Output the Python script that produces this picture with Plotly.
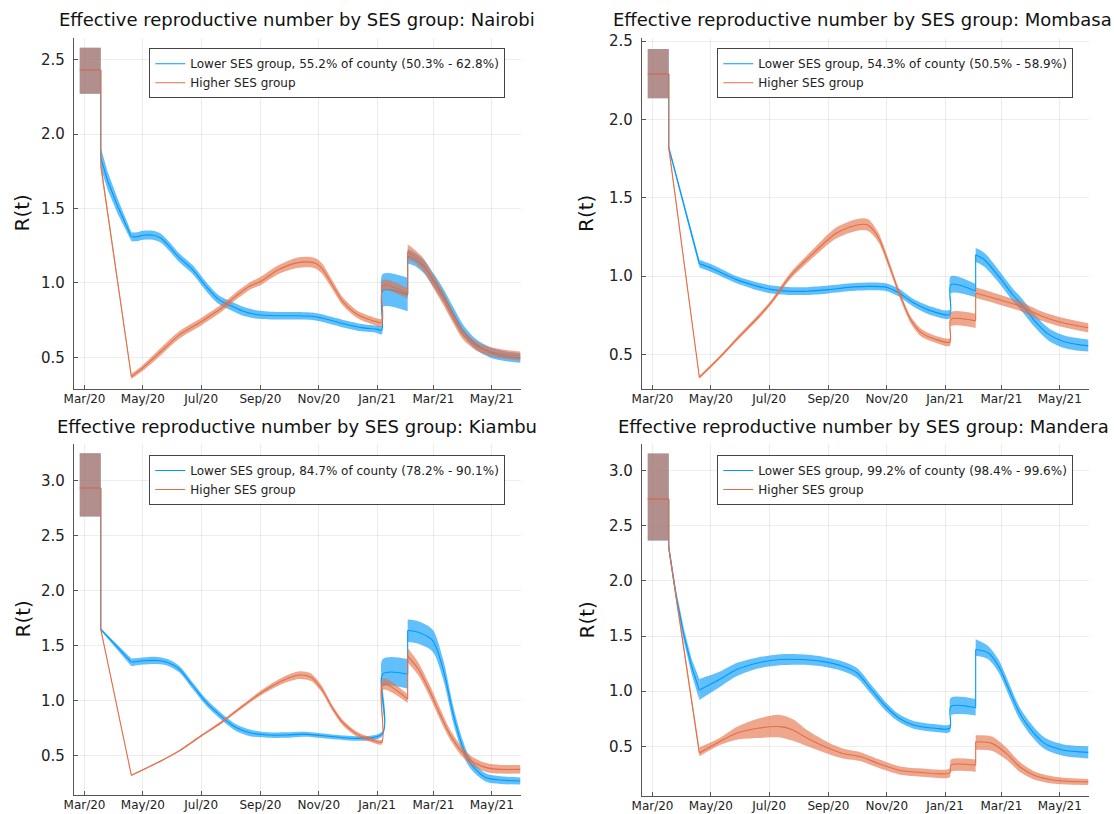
import pandas as pd
import plotly.graph_objects as go

W, H = 1114, 814
FONT = "DejaVu Sans"
BLUE = "#009AFA"
RED = "#E36F47"
BLUE_FILL = "rgba(0,154,250,0.62)"
RED_FILL = "rgba(227,111,71,0.62)"
START = pd.Timestamp("2020-03-01")
KINK_DAY = 49   # end of the straight post-lockdown descent

# ---------------- data (days since 2020-03-01, mean, lower, upper) ----------------
# Nairobi
nai_low_day = [-5, 17, 17, 24, 35, 49, 55, 61, 72, 80, 88, 99, 113, 128, 140, 152, 166, 181, 203, 222, 240, 248, 260, 275, 290, 305, 311, 312, 338, 338, 345, 355, 365, 375, 386, 396, 410, 424, 441, 456]
nai_low_mean = [2.43, 2.43, 1.84, 1.69, 1.51, 1.31, 1.31, 1.32, 1.32, 1.30, 1.25, 1.17, 1.09, 0.97, 0.89, 0.85, 0.81, 0.787, 0.78, 0.78, 0.775, 0.765, 0.745, 0.72, 0.70, 0.69, 0.685, 0.95, 0.92, 1.18, 1.16, 1.11, 1.02, 0.92, 0.79, 0.68, 0.585, 0.535, 0.505, 0.495]
nai_low_lo = [2.27, 2.27, 1.77, 1.63, 1.46, 1.28, 1.28, 1.29, 1.29, 1.27, 1.22, 1.14, 1.06, 0.94, 0.86, 0.82, 0.78, 0.76, 0.755, 0.755, 0.75, 0.74, 0.72, 0.695, 0.675, 0.665, 0.655, 0.84, 0.81, 1.13, 1.115, 1.065, 0.975, 0.875, 0.745, 0.64, 0.55, 0.50, 0.475, 0.465]
nai_low_hi = [2.58, 2.58, 1.91, 1.75, 1.56, 1.34, 1.34, 1.35, 1.35, 1.33, 1.28, 1.20, 1.12, 1.00, 0.92, 0.88, 0.84, 0.815, 0.805, 0.805, 0.80, 0.79, 0.77, 0.745, 0.725, 0.715, 0.715, 1.06, 1.035, 1.23, 1.205, 1.155, 1.065, 0.965, 0.835, 0.72, 0.62, 0.57, 0.54, 0.53]

nai_high_day = [-5, 17, 17, 33, 49, 61, 80, 99, 122, 143, 158, 173, 184, 203, 222, 236, 242, 248, 259, 270, 285, 300, 311, 312, 338, 338, 345, 354, 365, 375, 386, 396, 410, 424, 441, 456]
nai_high_mean = [2.43, 2.43, 1.79, 1.08, 0.37, 0.43, 0.54, 0.65, 0.74, 0.83, 0.91, 0.98, 1.01, 1.09, 1.135, 1.14, 1.13, 1.10, 0.99, 0.877, 0.79, 0.75, 0.735, 0.985, 0.93, 1.21, 1.18, 1.125, 1.01, 0.90, 0.765, 0.655, 0.575, 0.54, 0.52, 0.51]
nai_high_lo = [2.27, 2.27, 1.76, 1.06, 0.355, 0.41, 0.515, 0.625, 0.715, 0.805, 0.885, 0.955, 0.985, 1.06, 1.10, 1.105, 1.095, 1.065, 0.96, 0.85, 0.765, 0.725, 0.71, 0.95, 0.895, 1.16, 1.135, 1.08, 0.965, 0.855, 0.725, 0.62, 0.545, 0.51, 0.49, 0.48]
nai_high_hi = [2.58, 2.58, 1.82, 1.10, 0.39, 0.45, 0.565, 0.675, 0.765, 0.855, 0.935, 1.005, 1.04, 1.12, 1.17, 1.175, 1.165, 1.135, 1.02, 0.905, 0.815, 0.775, 0.76, 1.02, 0.965, 1.26, 1.225, 1.17, 1.055, 0.945, 0.805, 0.69, 0.605, 0.57, 0.55, 0.54]

# Mombasa
mom_low_day = [-5, 17, 17, 33, 49, 62, 88, 110, 125, 144, 162, 184, 207, 229, 244, 251, 258, 273, 292, 311, 312, 338, 338, 347, 362, 377, 386, 399, 414, 429, 444, 456]
mom_low_mean = [2.29, 2.29, 1.82, 1.45, 1.08, 1.05, 0.978, 0.935, 0.914, 0.904, 0.904, 0.914, 0.93, 0.935, 0.93, 0.914, 0.893, 0.83, 0.777, 0.756, 0.946, 0.904, 1.136, 1.105, 1.00, 0.88, 0.82, 0.72, 0.63, 0.585, 0.565, 0.555]
mom_low_lo = [2.135, 2.135, 1.805, 1.43, 1.055, 1.025, 0.955, 0.91, 0.89, 0.88, 0.88, 0.89, 0.905, 0.91, 0.905, 0.89, 0.87, 0.805, 0.75, 0.73, 0.89, 0.865, 1.09, 1.06, 0.96, 0.84, 0.78, 0.68, 0.59, 0.545, 0.525, 0.52]
mom_low_hi = [2.45, 2.45, 1.835, 1.47, 1.105, 1.075, 1.00, 0.96, 0.94, 0.93, 0.93, 0.94, 0.955, 0.96, 0.955, 0.94, 0.92, 0.855, 0.805, 0.785, 1.00, 0.95, 1.18, 1.15, 1.04, 0.92, 0.86, 0.76, 0.67, 0.625, 0.605, 0.595]

mom_high_day = [-5, 17, 17, 33, 49, 70, 88, 110, 125, 144, 170, 192, 214, 225, 236, 247, 258, 270, 281, 296, 311, 312, 338, 338, 362, 384, 407, 429, 456]
mom_high_mean = [2.29, 2.29, 1.82, 1.087, 0.354, 0.48, 0.597, 0.735, 0.84, 1.00, 1.157, 1.274, 1.327, 1.327, 1.25, 1.08, 0.893, 0.724, 0.64, 0.597, 0.58, 0.724, 0.715, 0.893, 0.851, 0.81, 0.745, 0.703, 0.671]
mom_high_lo = [2.135, 2.135, 1.805, 1.075, 0.345, 0.47, 0.585, 0.72, 0.825, 0.98, 1.13, 1.24, 1.29, 1.29, 1.22, 1.055, 0.87, 0.70, 0.615, 0.575, 0.555, 0.68, 0.67, 0.86, 0.82, 0.78, 0.715, 0.675, 0.64]
mom_high_hi = [2.45, 2.45, 1.835, 1.10, 0.365, 0.49, 0.61, 0.75, 0.855, 1.02, 1.185, 1.31, 1.365, 1.365, 1.28, 1.105, 0.915, 0.745, 0.665, 0.62, 0.605, 0.77, 0.76, 0.93, 0.885, 0.84, 0.775, 0.735, 0.70]

# Kiambu
kia_low_day = [-5, 17, 17, 33, 49, 61, 76, 87, 99, 113, 128, 143, 150, 158, 173, 192, 211, 229, 311, 312, 338, 338, 349, 364, 375, 386, 394, 401, 409, 420, 435, 456]
kia_low_mean = [2.935, 2.935, 1.65, 1.50, 1.352, 1.365, 1.367, 1.35, 1.29, 1.14, 0.98, 0.86, 0.81, 0.76, 0.71, 0.69, 0.69, 0.698, 0.698, 1.245, 1.245, 1.64, 1.625, 1.55, 1.29, 0.865, 0.622, 0.47, 0.378, 0.302, 0.281, 0.272]
kia_low_lo = [2.675, 2.675, 1.64, 1.48, 1.315, 1.33, 1.335, 1.32, 1.26, 1.11, 0.95, 0.83, 0.78, 0.73, 0.68, 0.665, 0.665, 0.675, 0.675, 1.13, 1.11, 1.535, 1.52, 1.45, 1.20, 0.79, 0.56, 0.42, 0.335, 0.265, 0.245, 0.24]
kia_low_hi = [3.25, 3.25, 1.66, 1.52, 1.385, 1.395, 1.40, 1.38, 1.32, 1.17, 1.01, 0.89, 0.84, 0.79, 0.74, 0.715, 0.715, 0.72, 0.72, 1.38, 1.38, 1.74, 1.725, 1.65, 1.38, 0.94, 0.685, 0.52, 0.42, 0.34, 0.315, 0.305]

kia_high_day = [-5, 17, 17, 33, 49, 80, 99, 122, 143, 166, 188, 211, 225, 237, 248, 259, 270, 285, 300, 311, 312, 338, 338, 349, 360, 371, 382, 394, 405, 420, 435, 456]
kia_high_mean = [2.935, 2.935, 1.65, 0.987, 0.324, 0.455, 0.546, 0.683, 0.804, 0.956, 1.093, 1.20, 1.236, 1.215, 1.108, 0.941, 0.804, 0.698, 0.646, 0.628, 1.154, 1.017, 1.41, 1.29, 1.108, 0.895, 0.698, 0.546, 0.455, 0.394, 0.378, 0.378]
kia_high_lo = [2.675, 2.675, 1.64, 0.98, 0.318, 0.448, 0.538, 0.673, 0.79, 0.94, 1.07, 1.17, 1.20, 1.18, 1.08, 0.915, 0.78, 0.675, 0.625, 0.605, 1.10, 0.98, 1.35, 1.235, 1.055, 0.845, 0.655, 0.505, 0.415, 0.355, 0.34, 0.34]
kia_high_hi = [3.25, 3.25, 1.66, 0.995, 0.33, 0.462, 0.555, 0.693, 0.818, 0.972, 1.115, 1.23, 1.27, 1.25, 1.14, 0.965, 0.83, 0.72, 0.668, 0.65, 1.205, 1.06, 1.48, 1.35, 1.165, 0.95, 0.745, 0.59, 0.495, 0.435, 0.418, 0.418]

# Mandera
man_low_day = [-5, 17, 17, 25, 33, 41, 49, 70, 88, 110, 133, 155, 177, 199, 214, 229, 244, 258, 273, 296, 311, 312, 338, 338, 351, 362, 373, 384, 396, 410, 429, 456]
man_low_mean = [2.74, 2.74, 2.30, 1.85, 1.50, 1.22, 1.01, 1.105, 1.196, 1.256, 1.287, 1.287, 1.27, 1.226, 1.165, 1.013, 0.861, 0.755, 0.694, 0.664, 0.664, 0.861, 0.85, 1.378, 1.348, 1.226, 1.013, 0.80, 0.649, 0.527, 0.467, 0.445]
man_low_lo = [2.365, 2.365, 2.26, 1.80, 1.44, 1.15, 0.92, 1.035, 1.135, 1.205, 1.235, 1.24, 1.225, 1.18, 1.12, 0.97, 0.82, 0.72, 0.66, 0.63, 0.63, 0.78, 0.78, 1.32, 1.29, 1.17, 0.955, 0.745, 0.595, 0.475, 0.415, 0.39]
man_low_hi = [3.155, 3.155, 2.34, 1.90, 1.56, 1.29, 1.11, 1.175, 1.255, 1.305, 1.335, 1.335, 1.315, 1.27, 1.21, 1.055, 0.90, 0.79, 0.73, 0.70, 0.70, 0.94, 0.93, 1.47, 1.41, 1.285, 1.07, 0.855, 0.705, 0.58, 0.52, 0.50]

man_high_day = [-5, 17, 17, 33, 49, 70, 88, 110, 133, 147, 162, 184, 199, 218, 236, 258, 281, 311, 312, 338, 338, 355, 370, 384, 399, 421, 456]
man_high_mean = [2.74, 2.74, 2.30, 1.37, 0.44, 0.542, 0.618, 0.664, 0.679, 0.649, 0.573, 0.482, 0.436, 0.406, 0.345, 0.284, 0.263, 0.26, 0.33, 0.33, 0.542, 0.527, 0.436, 0.315, 0.239, 0.193, 0.178]
man_high_lo = [2.365, 2.365, 2.27, 1.34, 0.41, 0.51, 0.56, 0.575, 0.58, 0.55, 0.50, 0.43, 0.39, 0.365, 0.305, 0.245, 0.225, 0.22, 0.27, 0.27, 0.47, 0.46, 0.38, 0.27, 0.20, 0.16, 0.15]
man_high_hi = [3.155, 3.155, 2.33, 1.40, 0.49, 0.575, 0.675, 0.75, 0.785, 0.745, 0.645, 0.535, 0.48, 0.445, 0.385, 0.32, 0.30, 0.30, 0.38, 0.38, 0.60, 0.59, 0.49, 0.36, 0.275, 0.225, 0.205]

counties = ["Nairobi", "Mombasa", "Kiambu", "Mandera"]
lower_labels = [
    "Lower SES group, 55.2% of county (50.3% - 62.8%)",
    "Lower SES group, 54.3% of county (50.5% - 58.9%)",
    "Lower SES group, 84.7% of county (78.2% - 90.1%)",
    "Lower SES group, 99.2% of county (98.4% - 99.6%)",
]
higher_label = "Higher SES group"
y_ranges = [[0.288, 2.645], [0.28, 2.52], [0.145, 3.335], [0.05, 3.24]]
x_range = ["2020-02-19", "2021-05-31"]

low_data = [
    (nai_low_day, nai_low_mean, nai_low_lo, nai_low_hi),
    (mom_low_day, mom_low_mean, mom_low_lo, mom_low_hi),
    (kia_low_day, kia_low_mean, kia_low_lo, kia_low_hi),
    (man_low_day, man_low_mean, man_low_lo, man_low_hi),
]
high_data = [
    (nai_high_day, nai_high_mean, nai_high_lo, nai_high_hi),
    (mom_high_day, mom_high_mean, mom_high_lo, mom_high_hi),
    (kia_high_day, kia_high_mean, kia_high_lo, kia_high_hi),
    (man_high_day, man_high_mean, man_high_lo, man_high_hi),
]

# ---------------- layout geometry (pixels) ----------------
plot_boxes = [  # left, right, top, bottom
    (74, 520.5, 38, 389),
    (642, 1088.5, 38, 389),
    (74, 520.5, 444, 795),
    (642, 1088.5, 444, 796),
]
title_pos = [(297, 20), (862, 20), (297, 426), (863, 426)]
ylabel_x = [22, 586.5, 22, 586.5]
legend_pos = [(149.3, 48.3), (717.3, 48.3), (149.3, 455), (717.3, 455)]
SMOOTH = 0.8


def to_dates(days):
    return [START + pd.Timedelta(days=d) for d in days]


def split_segments(day):
    """Split at jumps (repeated day) and at the kink day; returns slices."""
    segs, start = [], 0
    for i in range(1, len(day)):
        if day[i] == day[i - 1]:
            segs.append((start, i))
            start = i
        elif day[i] == KINK_DAY:
            segs.append((start, i + 1))
            start = i
    segs.append((start, len(day)))
    return segs


fig = go.Figure()
layout = dict(
    width=W, height=H,
    margin=dict(l=0, r=0, t=0, b=0, pad=0, autoexpand=False),
    paper_bgcolor="white", plot_bgcolor="white",
    font=dict(family=FONT, color="#222"),
    annotations=[],
    showlegend=True,
)

for i in range(4):
    s = "" if i == 0 else str(i + 1)
    xa, ya = "x" + s, "y" + s
    leg = "legend" + s
    for (day, mean, lo, hi), color, fill, name in (
        (low_data[i], BLUE, BLUE_FILL, lower_labels[i]),
        (high_data[i], RED, RED_FILL, higher_label),
    ):
        dates = to_dates(day)
        segs = split_segments(day)
        # ribbons
        for a, b in segs:
            shape = "linear" if (b - a <= 2 or day[b - 1] == KINK_DAY) else "spline"
            fig.add_trace(go.Scatter(
                x=dates[a:b], y=lo[a:b], mode="lines",
                line=dict(width=0, shape=shape, smoothing=SMOOTH),
                hoverinfo="skip", showlegend=False, xaxis=xa, yaxis=ya,
            ))
            fig.add_trace(go.Scatter(
                x=dates[a:b], y=hi[a:b], mode="lines", fill="tonexty",
                fillcolor=fill, line=dict(width=0, shape=shape, smoothing=SMOOTH),
                hoverinfo="skip", showlegend=False, xaxis=xa, yaxis=ya,
            ))
        # vertical connectors of the mean line at the jumps
        cx, cy = [], []
        for k in range(1, len(day)):
            if day[k] == day[k - 1]:
                cx += [dates[k], dates[k], None]
                cy += [mean[k - 1], mean[k], None]
        fig.add_trace(go.Scatter(
            x=cx, y=cy, mode="lines", line=dict(color=color, width=1.1),
            hoverinfo="skip", showlegend=False, xaxis=xa, yaxis=ya,
        ))
        # mean line segments
        for n, (a, b) in enumerate(segs):
            shape = "linear" if (b - a <= 2 or day[b - 1] == KINK_DAY) else "spline"
            fig.add_trace(go.Scatter(
                x=dates[a:b], y=mean[a:b], mode="lines", name=name,
                line=dict(color=color, width=1.1, shape=shape, smoothing=SMOOTH),
                showlegend=(n == 0), legendgroup=name + s,
                xaxis=xa, yaxis=ya, legend=leg,
            ))

    l, r, t, b = plot_boxes[i]
    layout["xaxis" + s] = dict(
        domain=[l / W, r / W], anchor=ya, type="date", range=x_range,
        tick0="2020-03-01", dtick="M2", tickformat="%b/%y", automargin=False,
        ticks="inside", ticklen=4, tickcolor="#555", ticklabelstandoff=-2,
        showline=True, linecolor="#555", linewidth=1.2, mirror=False,
        showgrid=True, gridcolor="rgba(0,0,0,0.07)", zeroline=False,
        tickfont=dict(size=12, family=FONT, color="#222"),
    )
    layout["yaxis" + s] = dict(
        domain=[1 - b / H, 1 - t / H], anchor=xa, range=y_ranges[i],
        dtick=0.5, tick0=0, tickformat=".1f", automargin=False,
        ticks="inside", ticklen=4, tickcolor="#555", ticklabelstandoff=5,
        showline=True, linecolor="#555", linewidth=1.2, mirror=False,
        showgrid=True, gridcolor="rgba(0,0,0,0.07)", zeroline=False,
        tickfont=dict(size=15, family=FONT, color="#222"),
    )
    lx, ly = legend_pos[i]
    layout[leg] = dict(
        x=lx / W, y=1 - ly / H, xanchor="left", yanchor="top",
        xref="paper", yref="paper", traceorder="normal",
        bgcolor="white", bordercolor="#444", borderwidth=1,
        font=dict(size=12, family=FONT, color="#222"),
    )
    tx, ty = title_pos[i]
    layout["annotations"].append(dict(
        text="Effective reproductive number by SES group: " + counties[i],
        xref="paper", yref="paper", x=tx / W, y=1 - ty / H,
        xanchor="center", yanchor="middle", showarrow=False,
        font=dict(size=18, family=FONT, color="#111"),
    ))
    layout["annotations"].append(dict(
        text="R(t)", textangle=-90,
        xref="paper", yref="paper", x=ylabel_x[i] / W, y=1 - ((t + b) / 2) / H,
        xanchor="center", yanchor="middle", showarrow=False,
        font=dict(size=20, family=FONT, color="#111"),
    ))

fig.update_layout(**layout)
fig.write_html("out.html", config={"displayModeBar": False},
               post_script="document.body.style.margin='0';")
